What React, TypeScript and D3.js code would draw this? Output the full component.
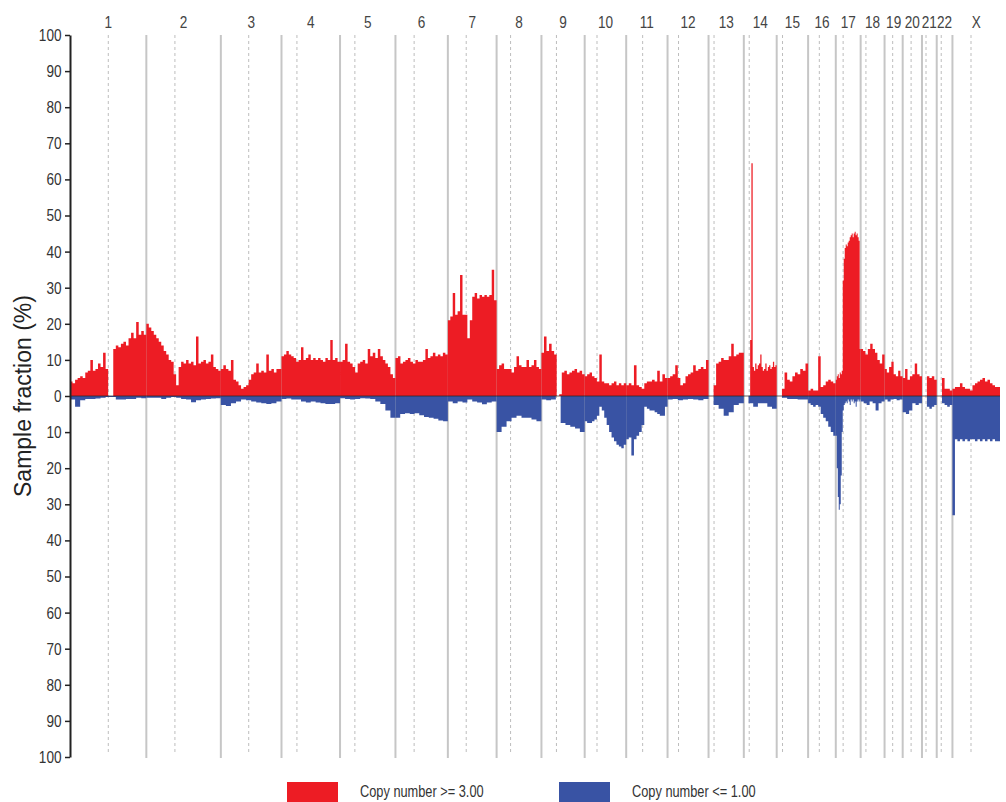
import React, { useEffect, useRef } from "react";
import * as d3 from "d3";

// chromosome layout (Mb, hg19)
const chromosomes = ["1", "2", "3", "4", "5", "6", "7", "8", "9", "10", "11", "12",
  "13", "14", "15", "16", "17", "18", "19", "20", "21", "22", "X"];
const chromLengths = [249.25, 243.2, 198.02, 191.15, 180.92, 171.12, 159.14, 146.36, 141.21,
  135.53, 135.01, 133.85, 115.17, 107.35, 102.53, 90.35, 81.2, 78.08, 59.13, 63.03, 48.13, 51.3, 155.27];
const centromeres = [125.0, 93.3, 91.0, 50.4, 48.4, 61.0, 59.9, 45.6, 49.0, 40.2, 53.7, 35.8,
  17.9, 17.6, 19.0, 36.6, 24.0, 17.2, 26.5, 27.5, 13.2, 14.7, 60.6];

// sample fraction (%) per equal-width bin along each chromosome
const gain1 = [4, 3.5, 4.5, 5, 5.5, 5, 6.5, 7, 10, 7, 7.5, 9, 8, 12, 7.5, 0, 0, 13, 14, 13.5, 14.5, 15, 14, 16, 17.5, 16, 20.5, 17, 18, 17];
const loss1 = [1, 3, 1.2, 0.8, 0.8, 0.7, 0.5, 0.3, 0.3, 1, 1, 0.8, 0.8, 0.5, 0.6];
const gain2 = [20, 19, 18, 17, 16, 15, 14, 12.5, 11.5, 10, 9.5, 6, 3, 8, 9.5, 9, 10, 9, 9.5, 8.5, 16.5, 9, 9.5, 10, 9, 9.5, 11.5, 8, 7.5, 7];
const loss2 = [0.5, 0.5, 0.5, 0.8, 0.5, 0.3, 0.5, 0.8, 1, 1.7, 1.2, 1, 0.8, 0.7, 0.6];
const gain3 = [7.5, 8.5, 7.5, 7, 10, 4.5, 4, 3, 2, 2.5, 3, 4.5, 6, 6.5, 9, 6.5, 7, 6.5, 11.5, 7, 7.5, 6.5, 7.5, 7.5];
const loss3 = [2.5, 2.8, 2, 1.5, 1, 1.2, 1.5, 1.8, 2, 2.2, 2, 1.5];
const gain4 = [11, 11.5, 12.5, 11.5, 11, 10.5, 9.5, 10, 13.5, 10, 10.5, 11.5, 10, 10.5, 10, 10.5, 10, 9.5, 10.5, 10, 15.5, 10, 10.5, 9.5];
const loss4 = [0.8, 0.7, 1, 1, 1.5, 1.8, 1.5, 1.8, 2, 2.2, 2.2, 2];
const gain5 = [9.5, 10, 14.5, 9.5, 9, 8, 6.5, 9, 9.5, 10, 9, 13, 11, 12, 10.5, 13, 11, 10, 9, 8, 6, 5];
const loss5 = [0.6, 0.8, 1, 0.8, 0.6, 0.7, 0.8, 1.5, 2.2, 4, 6];
const gain6 = [10.5, 11, 9, 9.5, 10, 10.5, 9.5, 9, 10, 9.5, 9.5, 10, 13, 10.5, 11, 12, 11, 11.5, 11, 12, 11.5];
const loss6 = [6, 5, 4.8, 5, 4.8, 5.3, 5.8, 6, 6.3, 6.8, 7];
const gain7 = [21, 22, 28.5, 22.5, 23.5, 33.5, 22.5, 22.5, 16, 21, 27.5, 28.5, 27, 28, 27.5, 28, 27.5, 28, 35, 26.5];
const loss7 = [1.5, 2, 1.5, 1.8, 1, 1.5, 1.8, 2.3, 1.8, 1.5];
const gain8 = [7.5, 8.5, 9, 7.5, 7.5, 7.5, 6.5, 8, 11, 8.5, 8, 8, 10, 8, 8.5, 10, 8, 7.5];
const loss8 = [10, 8.5, 7, 6, 5.5, 6, 6, 6.5, 7];
const gain9 = [12, 16.5, 12.5, 14.5, 12.5, 11.5, 0, 0.5, 6.5, 7, 6, 6.5, 7, 7.5, 6.5, 7, 6];
const loss9 = [1, 1.2, 1, 0, 7.5, 8, 8.5, 9, 10];
const gain10 = [5.5, 6, 6.5, 5.5, 5, 4, 11.5, 4, 3.5, 3.5, 3, 3.5, 4, 3, 3.5, 3, 3.5];
const loss10 = [7, 7.5, 7.5, 7, 6.5, 5.5, 3, 4, 6, 8, 10, 11.5, 12.5, 13.5, 14, 14.5, 13.5];
const gain11 = [3, 3.5, 3, 8.5, 3, 2.5, 2, 3.5, 4, 4, 4.5, 4, 7, 4, 6, 5];
const loss11 = [12, 11.5, 16.5, 12, 11, 10, 8, 3, 3.5, 4, 4, 4.5, 5, 5.5, 5.5, 3];
const gain12 = [5, 5.5, 6, 8.5, 5, 3, 3.5, 5.5, 6, 6.5, 8.5, 7, 7.5, 8, 7.5, 10];
const loss12 = [1, 0.8, 1.2, 1, 0.8, 1, 1.2, 0.8];
const gain13 = [0, 0, 3, 9, 9.5, 10.5, 10, 10, 11, 14.5, 11, 11.5, 12, 12];
const loss13 = [0, 2.5, 3.5, 5.5, 4.5, 2.5, 2];
const gain14 = [0, 0, 0, 0, 0, 15.5, 64.5, 8, 7, 9, 7.5, 8.5, 9, 11.5, 8, 7, 7.5, 9, 7, 8, 8.5, 7.5, 8, 9.5, 8, 8.5];
const loss14 = [0, 2, 3, 2, 2, 3, 3.5];
const gain15 = [0, 0, 2, 6.5, 4.5, 4, 5.5, 6.5, 6, 7.5, 7, 9];
const loss15 = [0, 0.5, 0.8, 0.8, 1, 1];
const gain16 = [1.5, 2, 1.5, 1.5, 11, 2.5, 3, 4, 4.5, 4, 3.5];
const loss16 = [2, 2.5, 3, 2.5, 3, 5, 6, 7, 8.5, 10, 11];
const gain17 = [4.5, 5.5, 6, 5, 6.5, 6, 7, 32, 38, 41, 42, 41.5, 42.5, 43, 44, 44.5, 45, 44, 45, 45.5, 44.5, 45, 44, 43, 13];
const loss17 = [11, 20, 28, 31.5, 30, 22, 10, 4, 2.5, 2, 1.5, 2, 1, 1.5, 2.5, 1, 1.5, 1, 2, 1.5, 3, 1.5, 1, 1.5, 1];
const gain18 = [13, 12.5, 11.5, 13, 14.5, 13, 12, 10, 9, 11.5];
const loss18 = [1.5, 2, 2.5, 1.5, 2, 4, 2, 1.5];
const gain19 = [7.5, 6.5, 8, 9.5, 6, 5.5, 7, 5.5];
const loss19 = [1, 1.5, 1, 0.8, 1.2, 1];
const gain20 = [5, 7.5, 4.5, 5.5, 6, 9, 6, 5.5];
const loss20 = [4.5, 5, 4, 2, 2.5, 2];
const gain21 = [0, 0, 5.5, 5, 5.5, 4.5];
const loss21 = [0, 0, 3, 3.5, 3, 2.5];
const gain22 = [0, 0, 5, 2, 2, 1.5];
const loss22 = [0, 0, 2, 2.5, 3, 2.5];
const gainX = [2, 2.5, 2.5, 3.5, 2.5, 2, 2, 1.5, 3, 3.5, 4, 4.5, 5, 4, 4.5, 3.5, 3, 2.5, 2.5];
const lossX = [33, 12, 12.5, 12, 12.5, 12, 12.5, 12, 12, 12.5, 12, 12.5, 12, 12.5, 12, 12.5, 12, 12.5, 12.5];

const gainSeries = [gain1, gain2, gain3, gain4, gain5, gain6, gain7, gain8, gain9, gain10, gain11, gain12,
  gain13, gain14, gain15, gain16, gain17, gain18, gain19, gain20, gain21, gain22, gainX];
const lossSeries = [loss1, loss2, loss3, loss4, loss5, loss6, loss7, loss8, loss9, loss10, loss11, loss12,
  loss13, loss14, loss15, loss16, loss17, loss18, loss19, loss20, loss21, loss22, lossX];

const yTickValues = [-100, -90, -80, -70, -60, -50, -40, -30, -20, -10, 0, 10, 20, 30, 40, 50, 60, 70, 80, 90, 100];
const legendLabels = ["Copy number >= 3.00", "Copy number <= 1.00"];

const RED = "#ed1c24";
const BLUE = "#3953a4";
const SANS = "'Liberation Sans', Arial, sans-serif";
const SQUEEZE = 0.8; // narrow look of the original labels

export default function App() {
  const svgRef = useRef<SVGSVGElement>(null);

  useEffect(() => {
    const svg = d3.select(svgRef.current);
    svg.selectAll("*").remove();

    const left = 70, right = 1000, top = 35, bottom = 757;
    const starts = chromLengths.map((_, i) => d3.sum(chromLengths.slice(0, i)));
    const total = d3.sum(chromLengths);

    const x = d3.scaleLinear().domain([0, total]).range([left, right]);
    const y = d3.scaleLinear().domain([-100, 100]).range([bottom, top]);

    // chromosome boundaries + centromeres
    const grid = svg.append("g");
    grid.selectAll("line.bound")
      .data(starts.slice(1))
      .join("line")
      .attr("class", "bound")
      .attr("x1", (d) => x(d)).attr("x2", (d) => x(d))
      .attr("y1", top).attr("y2", bottom + 1)
      .attr("stroke", "#c6c6c6").attr("stroke-width", 2);
    grid.selectAll("line.cen")
      .data(centromeres.map((c, i) => starts[i] + c))
      .join("line")
      .attr("class", "cen")
      .attr("x1", (d) => x(d)).attr("x2", (d) => x(d))
      .attr("y1", top).attr("y2", bottom - 4)
      .attr("stroke", "#bdbdbd").attr("stroke-width", 1)
      .attr("stroke-dasharray", "3,3");

    // binned profiles
    const toPoints = (vals: number[], i: number) => {
      const step = chromLengths[i] / vals.length;
      const pts = vals.map((v, j) => ({ pos: starts[i] + j * step, v }));
      pts.push({ pos: starts[i] + chromLengths[i], v: vals[vals.length - 1] });
      return pts;
    };
    const gainArea = d3.area<{ pos: number; v: number }>()
      .x((d) => x(d.pos)).y0(y(0)).y1((d) => y(d.v))
      .curve(d3.curveStepAfter);
    const lossArea = d3.area<{ pos: number; v: number }>()
      .x((d) => x(d.pos)).y0(y(0)).y1((d) => y(-d.v))
      .curve(d3.curveStepAfter);

    svg.append("g").selectAll("path")
      .data(gainSeries.map(toPoints))
      .join("path")
      .attr("d", (d) => gainArea(d))
      .attr("fill", RED);
    svg.append("g").selectAll("path")
      .data(lossSeries.map(toPoints))
      .join("path")
      .attr("d", (d) => lossArea(d))
      .attr("fill", BLUE);

    svg.append("line")
      .attr("x1", left).attr("x2", right)
      .attr("y1", y(0)).attr("y2", y(0))
      .attr("stroke", "#222").attr("stroke-width", 1).attr("opacity", 0.7);

    // y axis
    const axis = svg.append("g")
      .attr("transform", `translate(${left},0)`)
      .call(d3.axisLeft(y).tickValues(yTickValues)
        .tickFormat((d) => String(Math.abs(+d))).tickSize(5).tickSizeOuter(0).tickPadding(3));
    axis.select(".domain").attr("stroke", "#222").attr("stroke-width", 2);
    axis.selectAll(".tick line").attr("stroke", "#222").attr("stroke-width", 1.5);
    axis.selectAll(".tick text")
      .attr("x", -8.5 / SQUEEZE)
      .attr("transform", `scale(${SQUEEZE},1)`)
      .attr("font-family", SANS).attr("font-size", 17).attr("fill", "#333");

    svg.append("text")
      .attr("transform", `translate(31,${y(0)}) rotate(-90)`)
      .attr("text-anchor", "middle")
      .attr("font-family", SANS)
      .attr("font-size", 23)
      .attr("fill", "#222")
      .text("Sample fraction (%)");

    // chromosome labels
    svg.append("g").selectAll("text")
      .data(chromosomes)
      .join("text")
      .attr("transform", (_, i) => `translate(${x(starts[i] + chromLengths[i] / 2)},28) scale(${SQUEEZE},1)`)
      .attr("text-anchor", "middle")
      .attr("font-family", SANS).attr("font-size", 17).attr("fill", "#444")
      .text((d) => d);

    // legend
    const legendX = [287, 559];
    const legendColors = [RED, BLUE];
    const lg = svg.append("g").selectAll("g")
      .data(legendLabels)
      .join("g")
      .attr("transform", (_, i) => `translate(${legendX[i]},782)`);
    lg.append("rect")
      .attr("width", 51).attr("height", 20)
      .attr("fill", (_, i) => legendColors[i]);
    lg.append("text")
      .attr("transform", `translate(73,15) scale(${SQUEEZE},1)`)
      .attr("font-family", SANS).attr("font-size", 16).attr("fill", "#333")
      .text((d) => d);
  }, []);

  return (
    <svg
      ref={svgRef}
      width={1006}
      height={802}
      style={{ position: "absolute", left: 0, top: 0, display: "block", background: "#fff" }}
    />
  );
}
